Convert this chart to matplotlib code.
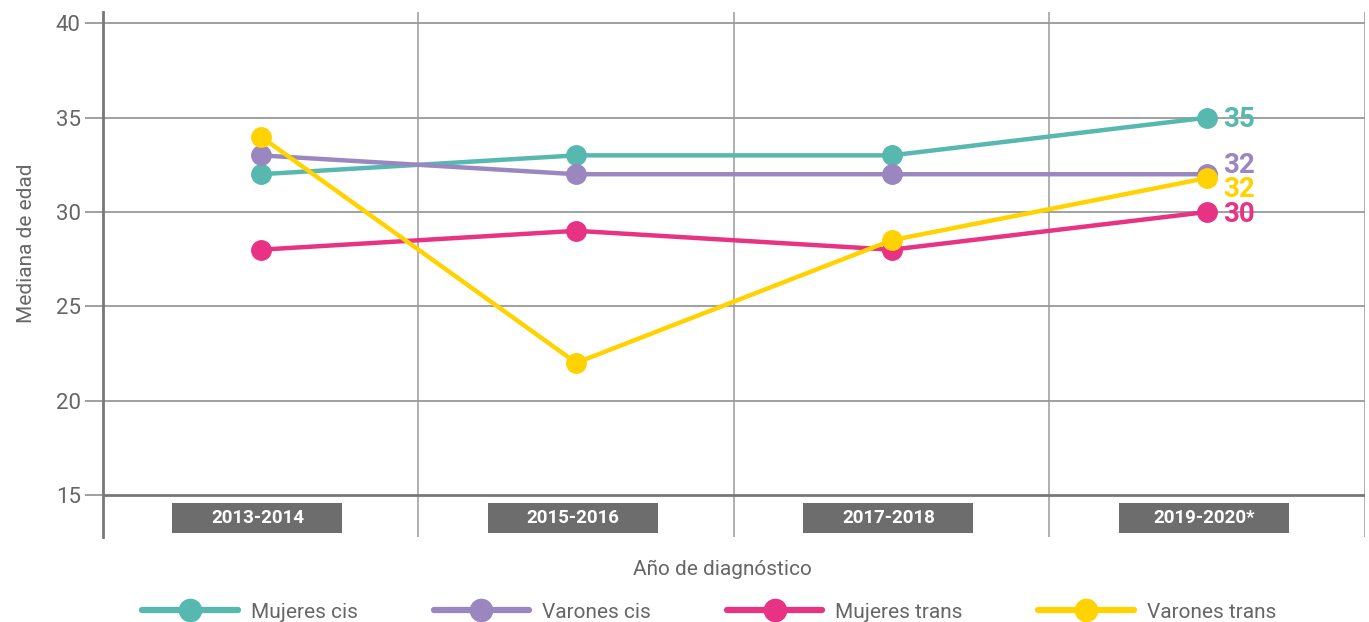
import matplotlib
matplotlib.use("Agg")
import matplotlib.pyplot as plt
from matplotlib.patches import Rectangle
from matplotlib.lines import Line2D

plt.rcParams['font.family'] = ['Roboto', 'DejaVu Sans']

# datos
periodos = ['2013-2014', '2015-2016', '2017-2018', '2019-2020*']
mujeres_cis = [32, 33, 33, 35]
varones_cis = [33, 32, 32, 32]
mujeres_trans = [28, 29, 28, 30]
varones_trans = [34, 22, 28.5, 31.8]
etiquetas_fin = ['35', '32', '30', '32']
series = ['Mujeres cis', 'Varones cis', 'Mujeres trans', 'Varones trans']
colores = ['#57b8b0', '#9b87c0', '#e83283', '#ffd200']

fig = plt.figure(figsize=(13.69, 6.22), dpi=100)
ax = fig.add_axes([0.0752, 0.1367, 0.9218, 0.844])

x = list(range(len(periodos)))
ax.set_xlim(-0.5, 3.5)
ax.set_ylim(12.77, 40.6)

# rejilla
for v in [-0.5, 0.5, 1.5, 2.5, 3.5]:
    ax.axvline(v, color='#aaaaaa', lw=1.3, zorder=1)
for yv in [20, 25, 30, 35, 40]:
    ax.axhline(yv, color='#999999', lw=1.3, zorder=1)
ax.axhline(15, color='#777777', lw=2, zorder=1)
ax.set_yticks([15, 20, 25, 30, 35, 40])
ax.tick_params(axis='y', length=13, width=1.3, color='#999999', labelsize=16,
               labelcolor='#666666', pad=3)
ax.set_xticks([])
for s in ['top', 'right', 'bottom']:
    ax.spines[s].set_visible(False)
ax.spines['left'].set_color('#777777')
ax.spines['left'].set_linewidth(2)

ax.set_ylabel('Mediana de edad', fontsize=15, color='#666666')
ax.yaxis.set_label_coords(-0.053, 0.56)

datos = [mujeres_cis, varones_cis, mujeres_trans, varones_trans]
orden = [3, 2, 1, 0]
for i in orden:
    ax.plot(x, datos[i], color=colores[i], lw=3.2, marker='o', ms=14,
            solid_capstyle='round', zorder=3 + i, clip_on=False)

# etiquetas finales
pos_fin = [(35, colores[0]), (32.6, colores[1]), (30, colores[2]), (31.3, colores[3])]
for (yv, c), t in zip(pos_fin, etiquetas_fin):
    ax.text(3.05, yv - 0.12, t, color=c, fontsize=20, fontweight='bold',
            va='center', ha='left', zorder=10)

# cajas de categorias
for i, p in enumerate(periodos):
    ax.add_patch(Rectangle((i - 0.28, 12.98), 0.539, 1.6, facecolor='#6d6d6d',
                           edgecolor='none', zorder=2))
    ax.text(i - 0.01, 13.78, p, color='white', fontsize=13.5, fontweight='bold',
            ha='center', va='center', zorder=3)

fig.text(0.528, 0.085, 'Año de diagnóstico', fontsize=15, color='#666666',
         ha='center', va='center')

handles = [Line2D([0], [0], color=c, lw=4.5, marker='o', ms=16,
                  solid_capstyle='round') for c in colores]
fig.legend(handles, series, loc='center', bbox_to_anchor=(0.518, 0.016), ncol=4,
           frameon=False, fontsize=15, handlelength=4.6, columnspacing=3.65,
           labelcolor='#666666', handletextpad=0.6)

fig.savefig('out.png', dpi=100)
